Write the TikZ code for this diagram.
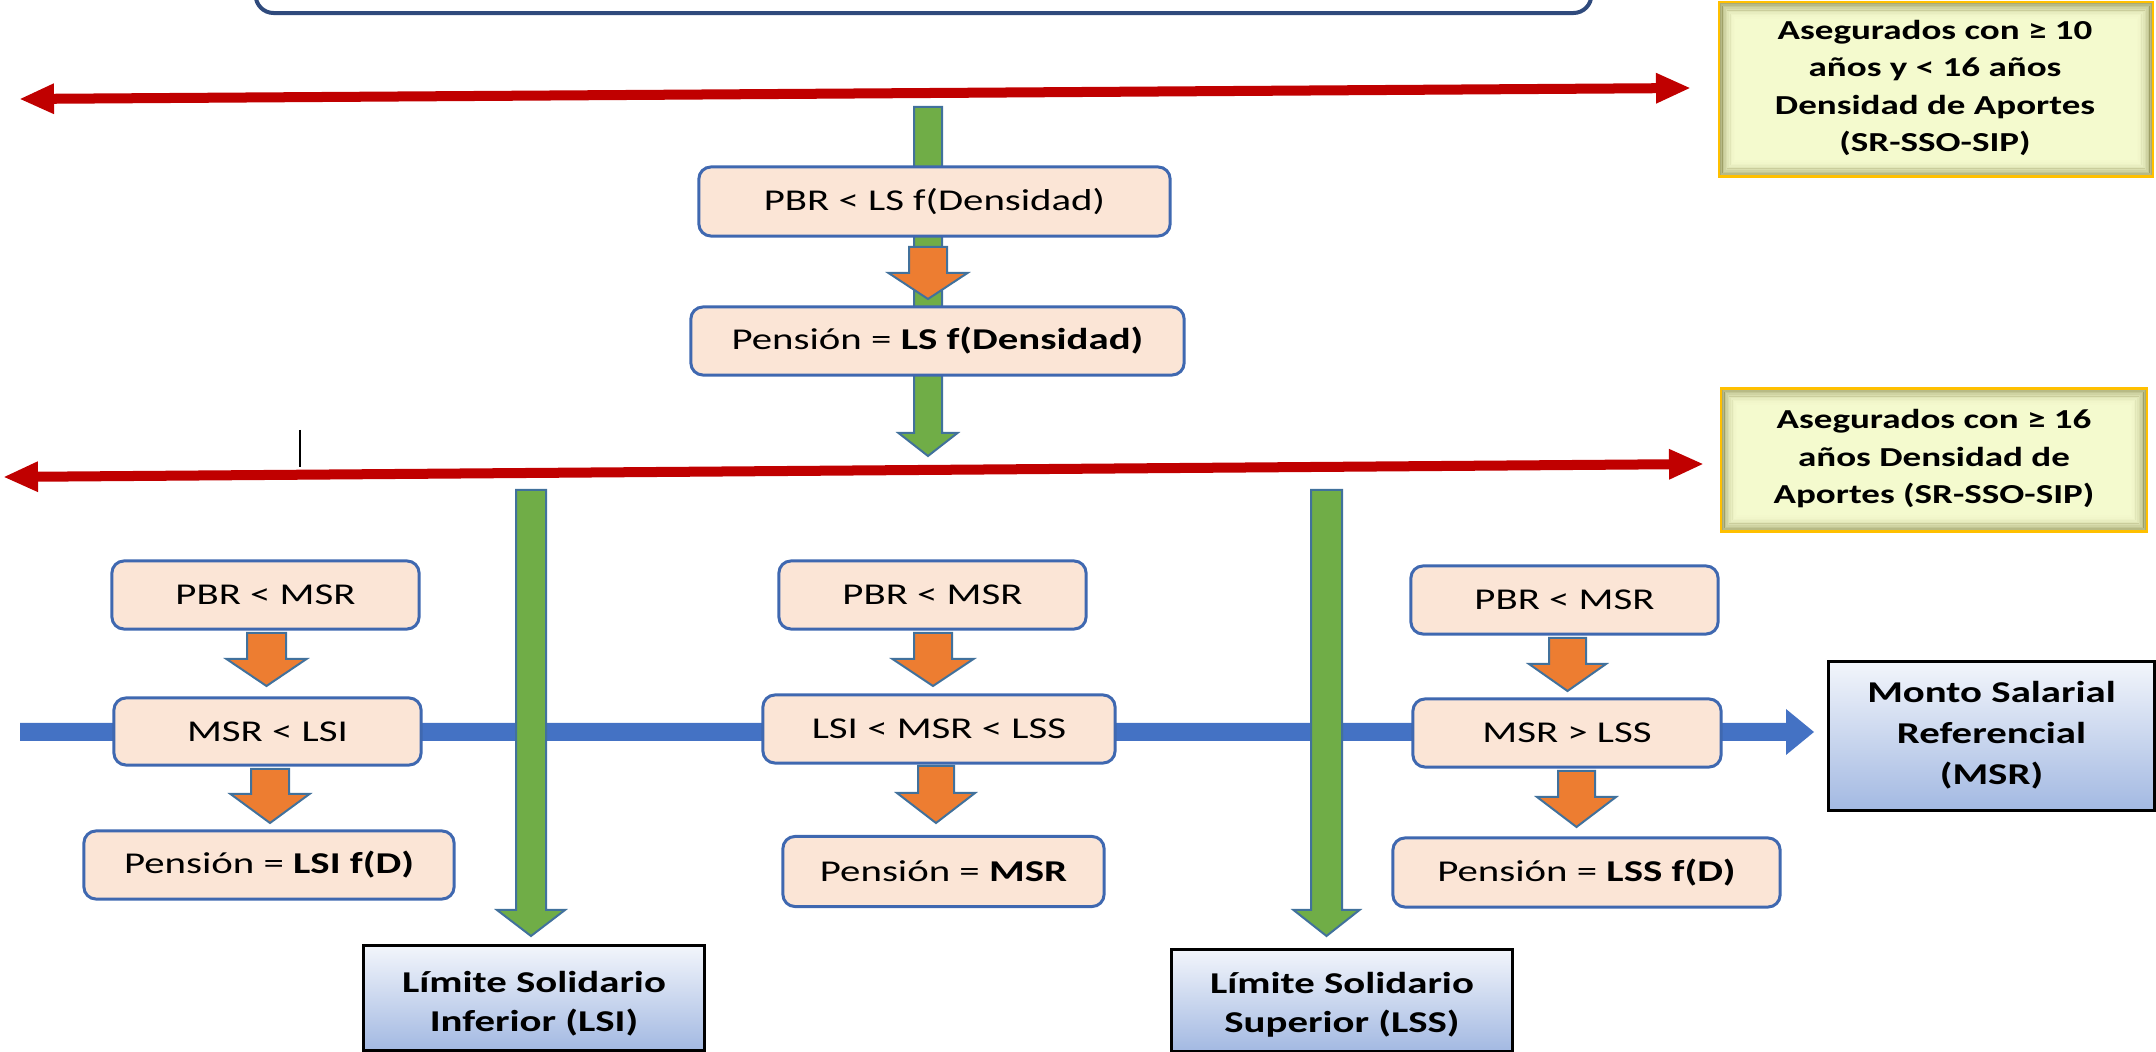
\documentclass[tikz,border=0pt]{standalone}
\usepackage{fontspec}
\setmainfont{Carlito}[FakeStretch=1.35]
\usetikzlibrary{arrows.meta,calc}
\definecolor{pinkfill}{HTML}{FBE5D6}
\definecolor{boxblue}{HTML}{3F68B0}
\definecolor{orangef}{HTML}{ED7D31}
\definecolor{greenf}{HTML}{70AD47}
\definecolor{arrowedge}{HTML}{41719C}
\definecolor{barblue}{HTML}{4472C4}
\definecolor{redarr}{HTML}{C00000}
\definecolor{topedge}{HTML}{2F4A7C}
\definecolor{ylfill}{HTML}{F4FACE}
\definecolor{ylborder}{HTML}{FFC000}
\definecolor{olivegl}{HTML}{77773A}
\definecolor{bltop}{HTML}{F2F5FB}
\definecolor{blbot}{HTML}{A3B9E2}
\newcommand{\blockdown}[7]{\draw[#1] (#2-#6,#3) -- (#2+#6,#3) -- (#2+#6,#4) -- (#2+#7,#4) -- (#2,#5) -- (#2-#7,#4) -- (#2-#6,#4) -- cycle;}
\newcommand{\ylglow}[1]{%
  \foreach \i in {0,...,9}{%
    \pgfmathsetmacro\dd{1+1.6*\i}%
    \pgfmathsetmacro\op{0.6*(1-\i/10)^2}%
    \draw[olivegl, line width=0.018cm, opacity=\op] ($(#1.north west)+(\dd,\dd)$) rectangle ($(#1.south east)-(\dd,\dd)$);}%
  \draw[ylborder, line width=0.025cm] (#1.north west) rectangle (#1.south east);}
\tikzset{
  pbox/.style={draw=boxblue, line width=0.03cm, fill=pinkfill, rounded corners=0.12cm, inner sep=0pt, align=center, font=\fontsize{8.6}{11}\selectfont},
  ybox/.style={fill=ylfill, inner sep=0pt},
  ytext/.style={inner sep=0pt, align=center, font=\bfseries\fontsize{7.8}{10.66}\selectfont},
  bbox/.style={draw=black, line width=0.03cm, top color=bltop, bottom color=blbot, inner sep=0pt},
  btext/.style={inner sep=0pt, align=center, font=\bfseries\fontsize{8.6}{11}\selectfont},
  oarr/.style={fill=orangef, draw=arrowedge, line width=0.02cm, line join=miter},
  garr/.style={fill=greenf, draw=arrowedge, line width=0.02cm, line join=miter},
  rarr/.style={redarr, line width=0.1cm, {Triangle[length=0.35cm,width=0.28cm]}-{Triangle[length=0.35cm,width=0.28cm]}}
}
\begin{document}
\begin{tikzpicture}[x=0.01cm,y=-0.01cm]
\useasboundingbox (0,0) rectangle (2156,1052);
\clip (0,0) rectangle (2156,1052);
% top box (partly visible)
\node[draw=topedge, line width=0.04cm, fill=white, rounded corners=0.18cm, minimum width=13.35cm, minimum height=1.0cm, inner sep=0pt] (topbox) at (923.5,-37) {};
% red double arrows
\coordinate (r1a) at (19,99); \coordinate (r1b) at (1691,88);
\coordinate (r2a) at (3,477); \coordinate (r2b) at (1704,464);
\draw[rarr] (r1a) -- (r1b);
\draw[rarr] (r2a) -- (r2b);
% yellow boxes
\node[ybox, minimum width=4.32cm, minimum height=1.73cm] (y1) at (1936,89.5) {};
\ylglow{y1}
\node[ytext] (y1t) at (1935,88) {Asegurados con ≥ 10\\años y < 16 años\\Densidad de Aportes\\(SR-SSO-SIP)};
\node[ybox, minimum width=4.24cm, minimum height=1.42cm] (y2) at (1934,460) {};
\ylglow{y2}
\node[ytext] (y2t) at (1934,459) {Asegurados con ≥ 16\\años Densidad de\\Aportes (SR-SSO-SIP)};
% blue bar
\fill[barblue] (20,723) -- (1786,723) -- (1786,709) -- (1814,732) -- (1786,755) -- (1786,741) -- (20,741) -- cycle;
% green arrows
\blockdown{garr}{928}{107}{433}{456}{14}{29.5}
\blockdown{garr}{531}{490}{910}{936}{15}{34}
\blockdown{garr}{1326.5}{490}{910}{936}{15.5}{33}
% pink boxes
\node[pbox, minimum width=4.71cm, minimum height=0.69cm] (pA) at (934.5,201.5) {PBR < LS f(Densidad)};
\node[pbox, minimum width=4.93cm, minimum height=0.68cm] (pB) at (937.5,341) {Pensión = \textbf{LS f(Densidad)}};
\node[pbox, minimum width=3.07cm, minimum height=0.68cm] (L1) at (265.5,595) {PBR < MSR};
\node[pbox, minimum width=3.07cm, minimum height=0.67cm] (L2) at (267.5,731.5) {MSR < LSI};
\node[pbox, minimum width=3.70cm, minimum height=0.68cm] (L3) at (269,865) {Pensión = \textbf{LSI f(D)}};
\node[pbox, minimum width=3.07cm, minimum height=0.68cm] (M1) at (932.5,595) {PBR < MSR};
\node[pbox, minimum width=3.52cm, minimum height=0.68cm] (M2) at (939,729) {LSI < MSR < LSS};
\node[pbox, minimum width=3.21cm, minimum height=0.70cm] (M3) at (943.5,871.5) {Pensión = \textbf{MSR}};
\node[pbox, minimum width=3.07cm, minimum height=0.68cm] (R1) at (1564.5,600) {PBR < MSR};
\node[pbox, minimum width=3.08cm, minimum height=0.68cm] (R2) at (1567,733) {MSR > LSS};
\node[pbox, minimum width=3.87cm, minimum height=0.69cm] (R3) at (1586.5,872.5) {Pensión = \textbf{LSS f(D)}};
% orange arrows
\blockdown{oarr}{928}{247}{273}{299}{19}{39.5}
\blockdown{oarr}{266.5}{633}{659}{686}{19.5}{40}
\blockdown{oarr}{270}{769}{794}{823}{19}{39.5}
\blockdown{oarr}{933}{633}{659}{686}{19}{40.5}
\blockdown{oarr}{936}{766}{793}{823}{18}{39}
\blockdown{oarr}{1567.5}{638}{664}{691}{18.5}{38.5}
\blockdown{oarr}{1576.5}{771}{797}{827}{18.5}{39.5}
% blue boxes
\node[bbox, minimum width=3.40cm, minimum height=1.04cm] (LSIbox) at (534,998) {};
\node[btext] (LSI) at (534,1004) {Límite Solidario\\Inferior (LSI)};
\node[bbox, minimum width=3.40cm, minimum height=1.01cm] (LSSbox) at (1342,1000.5) {};
\node[btext] (LSS) at (1342,1005) {Límite Solidario\\Superior (LSS)};
\node[bbox, minimum width=3.25cm, minimum height=1.48cm] (MSRbox) at (1991.5,736) {};
\node[btext, font=\bfseries\fontsize{8.6}{11.66}\selectfont] (MSR) at (1991.5,735) {Monto Salarial\\Referencial\\(MSR)};
% text cursor mark
\coordinate (cA) at (300,430); \coordinate (cB) at (300,467);
\draw[black, line width=0.02cm] (cA) -- (cB);
\end{tikzpicture}
\end{document}
